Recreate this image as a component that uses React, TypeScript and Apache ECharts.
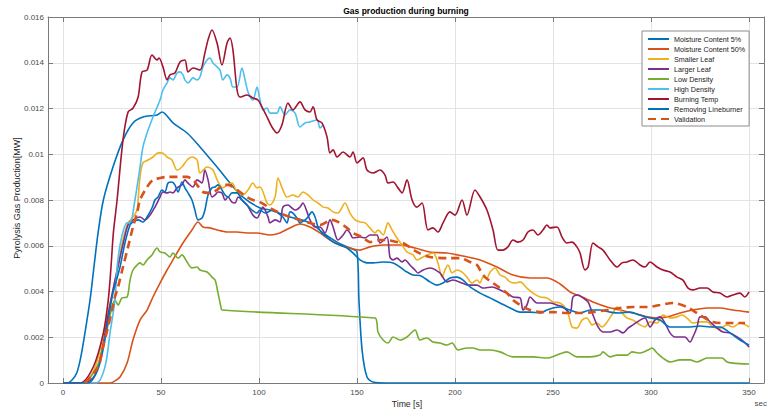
import React, { useEffect, useRef } from "react";
import * as echarts from "echarts";

const xTicks = [0, 50, 100, 150, 200, 250, 300, 350];
const X_MIN = -7.65;
const X_MAX = 357.65;

const seriesNames = [
  "Moisture Content 5%",
  "Moisture Content 50%",
  "Smaller Leaf",
  "Larger Leaf",
  "Low Density",
  "High Density",
  "Burning Temp",
  "Removing Lineburner",
  "Validation",
];

const mc5 = [[0,0],[1.9,0],[4.5,0.00012],[7,0.00044],[9,0.0011],[11.2,0.00219],[13.8,0.00363],[15.8,0.00508],[17.9,0.00656],[20.6,0.008],[25.5,0.00944],[30.6,0.01062],[35.7,0.01137],[40.8,0.01163],[48,0.01172],[50.5,0.01185],[56.1,0.01137],[63.3,0.01093],[69.9,0.01032],[78.6,0.00944],[85.2,0.00874],[91.8,0.00813],[100.5,0.00765],[105.6,0.00756],[115.8,0.00726],[126,0.007],[132.7,0.00656],[139.8,0.00616],[146.4,0.0059],[150,0.00573],[151,0.00363],[152.6,0.00144],[155.1,0.00026],[158.2,0.00004],[165,0],[350,0]];

const mc50 = [[0,0],[24,0],[25.5,0.00004],[29.1,0.00026],[32.7,0.00087],[35.7,0.00188],[39.3,0.00275],[42.9,0.00319],[45.9,0.00376],[49.5,0.00437],[53.1,0.00494],[56.1,0.00538],[61.2,0.00612],[65.8,0.00669],[68.9,0.00704],[71.4,0.00682],[75,0.00678],[78.6,0.00669],[83.7,0.0066],[88.8,0.0066],[93.9,0.00656],[99,0.00656],[105.6,0.00647],[110.7,0.00656],[115.8,0.00678],[120.9,0.00695],[126,0.00682],[131.1,0.00656],[136.2,0.00625],[141.3,0.00603],[146.4,0.0059],[151.5,0.00581],[156.6,0.00595],[163.3,0.00603],[171.9,0.00603],[179.6,0.0059],[187.2,0.00573],[195.9,0.00568],[204.1,0.00555],[212.8,0.00538],[221.4,0.00507],[229.6,0.00472],[238.3,0.00459],[246.9,0.00459],[253.6,0.00433],[258.7,0.00398],[263.8,0.0038],[270.4,0.00354],[277.6,0.00332],[284.2,0.00319],[290.8,0.00306],[298,0.00289],[303.1,0.00284],[308.2,0.00289],[314.8,0.00306],[321.4,0.00319],[328.6,0.00328],[335.2,0.00328],[341.8,0.00319],[350,0.0031]];

const smallerLeaf = [[0,0],[9.7,0],[15.3,0.00048],[18.9,0.00144],[22.4,0.00284],[25.5,0.00407],[28.1,0.00516],[30.6,0.00625],[33.2,0.007],[35.7,0.00726],[37.8,0.00756],[38.3,0.008],[39.3,0.00901],[40.8,0.00962],[43.4,0.00975],[45.9,0.00988],[48.5,0.01006],[50.5,0.01006],[53.1,0.00988],[55.6,0.00975],[58.2,0.00931],[60.7,0.00944],[63.3,0.00975],[65.8,0.00988],[68.4,0.00975],[69.9,0.00918],[73.5,0.00944],[76.5,0.00931],[79.1,0.00879],[81.6,0.00853],[83.7,0.00866],[86.2,0.00874],[88.8,0.00835],[91.8,0.00822],[94.4,0.00844],[96.9,0.00874],[99,0.00853],[100.5,0.00857],[104.1,0.00787],[105.6,0.00778],[108.2,0.00813],[109.7,0.00896],[112.2,0.00844],[114.3,0.00813],[117.3,0.00822],[119.9,0.00813],[122.4,0.00835],[125,0.00822],[127.6,0.008],[130.1,0.00787],[132.7,0.00769],[135.2,0.00765],[137.8,0.00748],[140.3,0.00743],[143.9,0.00787],[146.4,0.00743],[149,0.00713],[151.5,0.00704],[154.1,0.007],[156.6,0.00678],[159.2,0.00656],[160.7,0.00669],[163.3,0.00647],[165.8,0.007],[167.9,0.00669],[170.4,0.00634],[173,0.00603],[175.5,0.00573],[178.6,0.0056],[180.6,0.00538],[183.7,0.00551],[188.8,0.00568],[191.3,0.00525],[193.4,0.00463],[194.9,0.00494],[196.4,0.00516],[198.5,0.00481],[201,0.00494],[203.6,0.00485],[206.1,0.00463],[208.7,0.00437],[211.2,0.0045],[212.8,0.00437],[214.3,0.00463],[216.3,0.00459],[217.9,0.00485],[220.4,0.00503],[223,0.00472],[225.5,0.00463],[228.1,0.00442],[230.6,0.00437],[233.2,0.00442],[236.7,0.00415],[239.8,0.00393],[243.4,0.00376],[246.9,0.00372],[250,0.00354],[253.6,0.0035],[257.1,0.00319],[259.7,0.00245],[262.2,0.0024],[264.8,0.00275],[267.3,0.00284],[269.9,0.00254],[272.4,0.00262],[275,0.00245],[277.6,0.00267],[280.6,0.00306],[282.7,0.00332],[285.2,0.00306],[287.8,0.00284],[290.8,0.00275],[294.4,0.00254],[296.9,0.00245],[299.5,0.00267],[303.1,0.00262],[306.1,0.00297],[309.7,0.00284],[313.3,0.00289],[315.8,0.00297],[318.4,0.00284],[321.4,0.00262],[325,0.00267],[328.6,0.00267],[331.6,0.00245],[335.2,0.0024],[338.8,0.00254],[341.8,0.00245],[345.4,0.00262],[350,0.00245]];

const largerLeaf = [[0,0],[11.2,0],[16.3,0.00035],[19.9,0.00144],[23,0.00297],[26,0.00428],[28.6,0.00529],[31.1,0.00625],[33.2,0.00691],[35.7,0.00713],[39.3,0.00726],[41.8,0.00713],[44.4,0.00734],[46.9,0.00769],[49.5,0.00813],[51,0.00835],[53.1,0.00831],[54.6,0.00835],[56.1,0.00831],[58.2,0.00853],[60.7,0.00866],[62.2,0.00888],[63.8,0.00874],[66.3,0.00857],[68.4,0.00888],[70.9,0.00874],[72.4,0.00931],[74,0.00888],[76,0.00813],[77.6,0.00822],[79.1,0.00835],[81.1,0.00831],[82.7,0.008],[84.2,0.00813],[86.2,0.00791],[87.8,0.00787],[89.3,0.00813],[91.3,0.008],[93.9,0.00778],[95.4,0.00756],[96.9,0.00734],[99,0.00721],[100.5,0.00743],[102,0.00769],[104.6,0.00726],[105.6,0.007],[108.2,0.00713],[110.7,0.00704],[112.2,0.00769],[114.8,0.00778],[116.8,0.00765],[118.4,0.00756],[120.9,0.00769],[122.4,0.00787],[124.5,0.00748],[126,0.00713],[128.6,0.00682],[131.1,0.00682],[133.7,0.00656],[136.2,0.00713],[137.8,0.00682],[140.3,0.00625],[142.9,0.00647],[144.9,0.00669],[146.4,0.00656],[148,0.00634],[151.5,0.00638],[154.1,0.00634],[156.6,0.00647],[160.2,0.00647],[161.7,0.00612],[165.3,0.00638],[166.8,0.00551],[168.4,0.00538],[170.4,0.00546],[173,0.00529],[174.5,0.00538],[177,0.00516],[179.6,0.00494],[181.1,0.00481],[183.7,0.00494],[187.2,0.00503],[192.3,0.00481],[195.9,0.00442],[199,0.0045],[203.6,0.00437],[206.6,0.00428],[211.2,0.00428],[214.3,0.00415],[218.9,0.0042],[223,0.00407],[226.5,0.00393],[229.6,0.00376],[233.2,0.00372],[234.7,0.00319],[236.7,0.00341],[238.3,0.00376],[241.8,0.0035],[244.9,0.0035],[248.5,0.0035],[252,0.00341],[255.1,0.00332],[258.7,0.00306],[260.2,0.00376],[262.8,0.00385],[265.3,0.00372],[267.9,0.00354],[270.4,0.00297],[273,0.00245],[275.5,0.00223],[279.1,0.00223],[282.7,0.00232],[285.7,0.00219],[288.3,0.0024],[290.8,0.00254],[294.4,0.00275],[296.9,0.00284],[299.5,0.00245],[302,0.00275],[304.6,0.00289],[307.1,0.00262],[309.7,0.00219],[312.2,0.00201],[317.3,0.00201],[319.9,0.00179],[321.4,0.00201],[323.5,0.00245],[325,0.00289],[327.6,0.00289],[330.1,0.00267],[333.7,0.0024],[336.7,0.00223],[340.3,0.00219],[343.9,0.00201],[346.4,0.00188],[350,0.00157]];

const lowDensity = [[0,0],[10.2,0],[17.3,0.0007],[20.4,0.00157],[22.4,0.00232],[25,0.00332],[26.5,0.00363],[28.1,0.00341],[30.1,0.00372],[32.7,0.00376],[34.2,0.0045],[35.7,0.00494],[37.8,0.00516],[39.3,0.00525],[40.8,0.00516],[42.9,0.00538],[45.4,0.0056],[48,0.0059],[49.5,0.00573],[52,0.00568],[54.6,0.00551],[56.1,0.00568],[58.7,0.00546],[60.7,0.0056],[63.3,0.00529],[65.8,0.00503],[68.4,0.00507],[69.9,0.00494],[73.5,0.00485],[76,0.00463],[77.6,0.0045],[79.1,0.00393],[80.6,0.00332],[81.1,0.00319],[159.2,0.00284],[160.2,0.00262],[160.7,0.00223],[163.3,0.00188],[165.8,0.00175],[168.4,0.00201],[171.9,0.00188],[175.5,0.00201],[179.6,0.00232],[182.1,0.00188],[185.7,0.00197],[188.8,0.00179],[192.3,0.00175],[195.9,0.00166],[198.5,0.00175],[201.5,0.00144],[206.1,0.00153],[209.2,0.00153],[212.8,0.00144],[217.9,0.00144],[223,0.00136],[229.6,0.00114],[234.7,0.00114],[239.8,0.00114],[246.9,0.00109],[252,0.00122],[257.1,0.00136],[262.2,0.00114],[268.9,0.00114],[274,0.00122],[275.5,0.00136],[279.1,0.00114],[282.7,0.00122],[287.8,0.00122],[290.3,0.00136],[294.4,0.00131],[298.5,0.00144],[300.5,0.00153],[303.1,0.00131],[306.1,0.00109],[309.7,0.00092],[314.8,0.00101],[319.9,0.00101],[323.5,0.00092],[328.6,0.00109],[331.6,0.00109],[336.2,0.00109],[338.8,0.00092],[341.8,0.00087],[350,0.00083]];

const highDensity = [[0,0],[17,0],[21.4,0.0007],[24,0.00219],[26.5,0.00363],[27.6,0.00507],[29.6,0.00625],[32.7,0.007],[34.2,0.007],[36.7,0.008],[39.3,0.00944],[40.8,0.01032],[42.9,0.01093],[45.9,0.01163],[49.5,0.01237],[51,0.01281],[53.1,0.01312],[54.6,0.01334],[56.1,0.01325],[58.2,0.01355],[59.7,0.0136],[61.2,0.01347],[62.2,0.01325],[63.8,0.01312],[66.3,0.01334],[68.4,0.01325],[69.9,0.01338],[71.4,0.01382],[73.5,0.01412],[75,0.01421],[76.5,0.01399],[78.6,0.01382],[80.1,0.01368],[81.6,0.01325],[83.7,0.01347],[85.2,0.01334],[86.7,0.01294],[88.8,0.01294],[91.3,0.01377],[92.9,0.01325],[94.4,0.01272],[96.9,0.01237],[99,0.01294],[100.5,0.01237],[102,0.01194],[104.1,0.01202],[105.6,0.0118],[109.2,0.0118],[110.7,0.01207],[113.3,0.01172],[115.8,0.01194],[118.4,0.0118],[120.9,0.01119],[123.5,0.01137],[126,0.01141],[129.6,0.0115],[131.1,0.01115],[132.7,0.01128]];

const burningTemp = [[0,0],[8.7,0],[15.5,0.00071],[20.6,0.00219],[23.1,0.00363],[24.5,0.00508],[25.7,0.00656],[27.6,0.008],[30.6,0.01062],[33.2,0.01185],[35.7,0.01201],[38.3,0.01249],[40.3,0.0136],[42.9,0.01368],[45.4,0.01434],[48,0.01412],[49,0.01421],[51,0.01382],[53.1,0.01325],[54.6,0.01347],[57.1,0.01355],[59.7,0.01403],[62.2,0.01412],[63.8,0.0136],[66.3,0.01377],[69.9,0.01368],[72.4,0.01443],[74,0.015],[76,0.01543],[78.6,0.01486],[81.1,0.0139],[83.7,0.01486],[85.2,0.01508],[86.7,0.01456],[88.8,0.01281],[90.3,0.0125],[93.9,0.01259],[96.9,0.01246],[99.5,0.01237],[101.5,0.01207],[104.1,0.01163],[106.6,0.01119],[109.2,0.01093],[111.7,0.01128],[114.8,0.01224],[117.3,0.01194],[120.9,0.01229],[123.5,0.01194],[126,0.01185],[127.6,0.01207],[129.6,0.0115],[132.1,0.01137],[134.7,0.01076],[136.2,0.01006],[137.8,0.01019],[139.8,0.00988],[142.9,0.0101],[146.4,0.00988],[148,0.0101],[150,0.00962],[153.1,0.00984],[155.1,0.00931],[158.2,0.00918],[161.7,0.00931],[164.3,0.00909],[165.8,0.00874],[168.4,0.00879],[170.9,0.00853],[173,0.00831],[175.5,0.00888],[178.1,0.008],[180.6,0.00769],[183.2,0.00787],[186.2,0.00669],[188.8,0.00678],[191.3,0.0066],[193.9,0.007],[197.4,0.00748],[200,0.00734],[203.6,0.008],[206.1,0.00734],[210.2,0.00844],[212.8,0.00813],[216.3,0.00756],[219.4,0.00669],[221.9,0.00581],[224.5,0.00581],[227,0.00595],[229.6,0.00625],[232.1,0.00616],[234.7,0.00625],[237.2,0.0066],[239.8,0.00669],[242.3,0.00647],[244.9,0.00669],[246.9,0.00691],[248.5,0.00678],[252,0.00682],[254.6,0.00638],[257.1,0.00612],[259.7,0.00616],[262.2,0.00595],[263.8,0.00568],[266.3,0.00494],[267.9,0.00507],[270.4,0.00612],[273,0.00595],[275.5,0.00581],[279.1,0.00538],[282.7,0.00507],[285.2,0.00525],[287.8,0.00529],[290.8,0.00538],[294.4,0.00516],[296.9,0.00507],[299.5,0.00529],[303.1,0.00507],[306.1,0.00494],[309.7,0.00485],[313.3,0.00463],[316.3,0.0045],[318.9,0.00415],[321.4,0.00407],[325,0.00415],[328.6,0.00415],[331.6,0.00398],[335.2,0.00393],[338.8,0.00376],[341.8,0.00385],[345.4,0.00393],[347.9,0.00376],[350,0.00398]];

const removingLineburner = [[0,0],[12.8,0],[17.3,0.00048],[20.4,0.00144],[23,0.00275],[25.5,0.00393],[29.1,0.00507],[31.6,0.00612],[34.2,0.00691],[35.7,0.00704],[38.3,0.00713],[40.8,0.00704],[42.9,0.00726],[45.4,0.00765],[46.9,0.008],[48.5,0.00813],[50.5,0.00844],[52,0.00835],[53.6,0.00874],[55.6,0.00879],[57.1,0.00866],[58.7,0.00835],[60.7,0.00879],[62.2,0.00853],[63.8,0.00831],[65.8,0.008],[67.3,0.00756],[68.9,0.00713],[70.9,0.00721],[72.4,0.00756],[74,0.00822],[76,0.00853],[77.6,0.00857],[79.1,0.00866],[81.1,0.00844],[82.7,0.00822],[84.2,0.00813],[86.2,0.00831],[88.8,0.00831],[91.3,0.008],[93.9,0.00778],[96.4,0.00756],[99,0.00743],[100.5,0.00756],[103.1,0.00743],[104.6,0.00748],[107.1,0.00756],[109.7,0.00743],[112.2,0.00726],[114.3,0.007],[115.8,0.00748],[117.3,0.00743],[119.4,0.00721],[120.9,0.007],[123.5,0.00713],[125,0.00726],[127,0.00748],[128.6,0.00726],[130.1,0.00682],[132.1,0.00656],[134.7,0.00638],[137.8,0.00616],[141.3,0.00603],[144.9,0.0059],[148,0.00568],[151.5,0.00538],[155.1,0.00525],[158.2,0.00525],[163.3,0.00529],[168.4,0.00525],[171.9,0.00507],[175.5,0.00485],[178.6,0.00472],[182.1,0.0047],[187.2,0.00442],[190.8,0.00428],[193.9,0.00437],[197.4,0.00459],[201,0.00463],[204.1,0.0045],[207.7,0.0042],[212.8,0.00393],[217.9,0.00372],[223,0.0035],[228.1,0.00328],[233.2,0.0031],[238.3,0.0031],[243.4,0.00306],[246.9,0.00319],[250,0.00328],[253.6,0.00332],[258.7,0.00319],[263.8,0.00306],[268.9,0.00319],[274,0.00319],[279.1,0.0031],[284.2,0.00306],[289.3,0.0031],[294.4,0.00297],[299.5,0.00284],[304.6,0.00275],[309.7,0.00245],[314.8,0.00245],[319.9,0.00245],[325,0.00249],[330.1,0.00245],[335.2,0.00245],[340.3,0.00219],[345.4,0.00188],[350,0.00166]];

const validation = [[11.2,0],[17.9,0.0007],[20.4,0.00157],[23,0.00245],[25,0.00319],[26.5,0.00376],[28.1,0.0042],[30.6,0.00507],[33.2,0.00595],[35.7,0.00682],[37.8,0.00743],[39.3,0.008],[42.9,0.00857],[45.9,0.00888],[49.5,0.00896],[53.1,0.00901],[58.2,0.00901],[63.3,0.00901],[66.3,0.00888],[68.4,0.00866],[71.4,0.00835],[75,0.00831],[78.6,0.00844],[81.6,0.00866],[84.2,0.00866],[88.8,0.00844],[93.9,0.00813],[96.9,0.008],[100.5,0.00791],[105.6,0.00765],[110.7,0.00743],[115.8,0.00726],[120.9,0.00713],[126,0.007],[131.1,0.00691],[137.2,0.00713],[140.3,0.00704],[144.9,0.00678],[148,0.00656],[152.6,0.00638],[156.6,0.00616],[161.7,0.00625],[165.3,0.00625],[170.4,0.00616],[173.5,0.00612],[180.6,0.00573],[187.2,0.00551],[195.9,0.00546],[202.6,0.00546],[207.7,0.00529],[211.2,0.00516],[212.8,0.00494],[215.3,0.00463],[219.4,0.00437],[223,0.00415],[226.5,0.00393],[229.6,0.00363],[233.2,0.00341],[238.3,0.00319],[243.4,0.0031],[250,0.0031],[257.1,0.00306],[263.8,0.00306],[270.4,0.0031],[277.6,0.00319],[284.2,0.00328],[290.8,0.00332],[298,0.00332],[304.6,0.00341],[311.2,0.0035],[318.4,0.00332],[325,0.00297],[331.6,0.00267],[338.8,0.00262],[348,0.00262]];

const seriesData = [mc5, mc50, smallerLeaf, largerLeaf, lowDensity, highDensity, burningTemp, removingLineburner, validation];
const seriesColors = ["#0072BD", "#D95319", "#EDB120", "#7E2F8E", "#77AC30", "#4DBEEE", "#A2142F", "#0072BD", "#D95319"];

const FONT = '"Liberation Sans", Arial, Helvetica, sans-serif';
const AXIS_COLOR = "#7a7a7a";
const GRID_COLOR = "#e3e3e3";
const LABEL_COLOR = "#4a4a4a";

export default function App() {
  const ref = useRef<HTMLDivElement>(null);
  useEffect(() => {
    if (!ref.current) return;
    const chart = echarts.init(ref.current, null, { renderer: "svg" });
    const axisCommon = {
      axisLine: { show: true, onZero: false, lineStyle: { color: AXIS_COLOR, width: 1 } },
      axisTick: { show: true, inside: true, length: 5, lineStyle: { color: AXIS_COLOR, width: 1 } },
    };
    const series = seriesNames.map((name, i) => {
      const isVal = name === "Validation";
      return {
        name,
        type: "line",
        data: seriesData[i],
        symbol: "none",
        smooth: 0.3,
        xAxisIndex: 0,
        yAxisIndex: 0,
        lineStyle: {
          color: seriesColors[i],
          width: isVal ? 2.6 : 1.6,
          type: isVal ? [8, 5] : "solid",
        },
        itemStyle: { color: seriesColors[i] },
        emphasis: { disabled: true },
      };
    });
    chart.setOption({
      animation: false,
      backgroundColor: "#ffffff",
      textStyle: { fontFamily: FONT },
      grid: { left: 48, right: 4, top: 17, bottom: 31, containLabel: false },
      xAxis: [
        {
          type: "value",
          position: "bottom",
          min: X_MIN,
          max: X_MAX,
          ...axisCommon,
          axisTick: { ...axisCommon.axisTick, customValues: xTicks },
          axisLabel: { customValues: xTicks, fontSize: 8, color: LABEL_COLOR, margin: 5, fontFamily: FONT },
          splitLine: { show: true, lineStyle: { color: GRID_COLOR, width: 1 } },
        },
        {
          type: "value",
          position: "top",
          min: X_MIN,
          max: X_MAX,
          ...axisCommon,
          axisTick: { ...axisCommon.axisTick, customValues: xTicks },
          axisLabel: { show: false },
          splitLine: { show: false },
        },
      ],
      yAxis: [
        {
          type: "value",
          position: "left",
          min: 0,
          max: 0.016,
          interval: 0.002,
          ...axisCommon,
          axisLabel: {
            fontSize: 8,
            color: LABEL_COLOR,
            margin: 4,
            fontFamily: FONT,
            formatter: (v: number) => (v === 0 ? "0" : String(+v.toFixed(3))),
          },
          splitLine: { show: true, lineStyle: { color: GRID_COLOR, width: 1 } },
        },
        {
          type: "value",
          position: "right",
          min: 0,
          max: 0.016,
          interval: 0.002,
          ...axisCommon,
          axisLabel: { show: false },
          splitLine: { show: false },
        },
      ],
      legend: {
        orient: "vertical",
        left: 642,
        top: 31,
        padding: [4, 4, 3, 5],
        itemWidth: 21,
        itemHeight: 8,
        itemGap: 2,
        borderColor: "#8c8c8c",
        borderWidth: 1,
        backgroundColor: "#ffffff",
        itemStyle: { opacity: 0 },
        textStyle: { fontSize: 7.2, fontFamily: FONT, color: "#1a1a1a", lineHeight: 8 },
        data: seriesNames,
      },
      graphic: [
        {
          type: "text",
          x: 406,
          y: 11,
          style: {
            text: "Gas production during burning",
            font: `bold 8.5px ${FONT}`,
            fill: "#000000",
            align: "center",
            verticalAlign: "middle",
            textAlign: "center",
            textVerticalAlign: "middle",
          },
        },
        {
          type: "text",
          x: 17,
          y: 198,
          rotation: Math.PI / 2,
          style: {
            text: "Pyrolysis Gas Production[MW]",
            font: `9px ${FONT}`,
            fill: "#262626",
            align: "center",
            verticalAlign: "middle",
            textAlign: "center",
            textVerticalAlign: "middle",
          },
        },
        {
          type: "text",
          x: 407,
          y: 404,
          style: {
            text: "Time [s]",
            font: `8.7px ${FONT}`,
            fill: "#262626",
            align: "center",
            verticalAlign: "middle",
            textAlign: "center",
            textVerticalAlign: "middle",
          },
        },
        {
          type: "text",
          x: 767,
          y: 403,
          style: {
            text: "sec",
            font: `8px ${FONT}`,
            fill: LABEL_COLOR,
            align: "right",
            verticalAlign: "middle",
            textAlign: "right",
            textVerticalAlign: "middle",
          },
        },
      ],
      series,
    });
    return () => chart.dispose();
  }, []);
  return (
    <div
      ref={ref}
      style={{ position: "fixed", left: 0, top: 0, width: 768, height: 414, background: "#fff" }}
    />
  );
}
